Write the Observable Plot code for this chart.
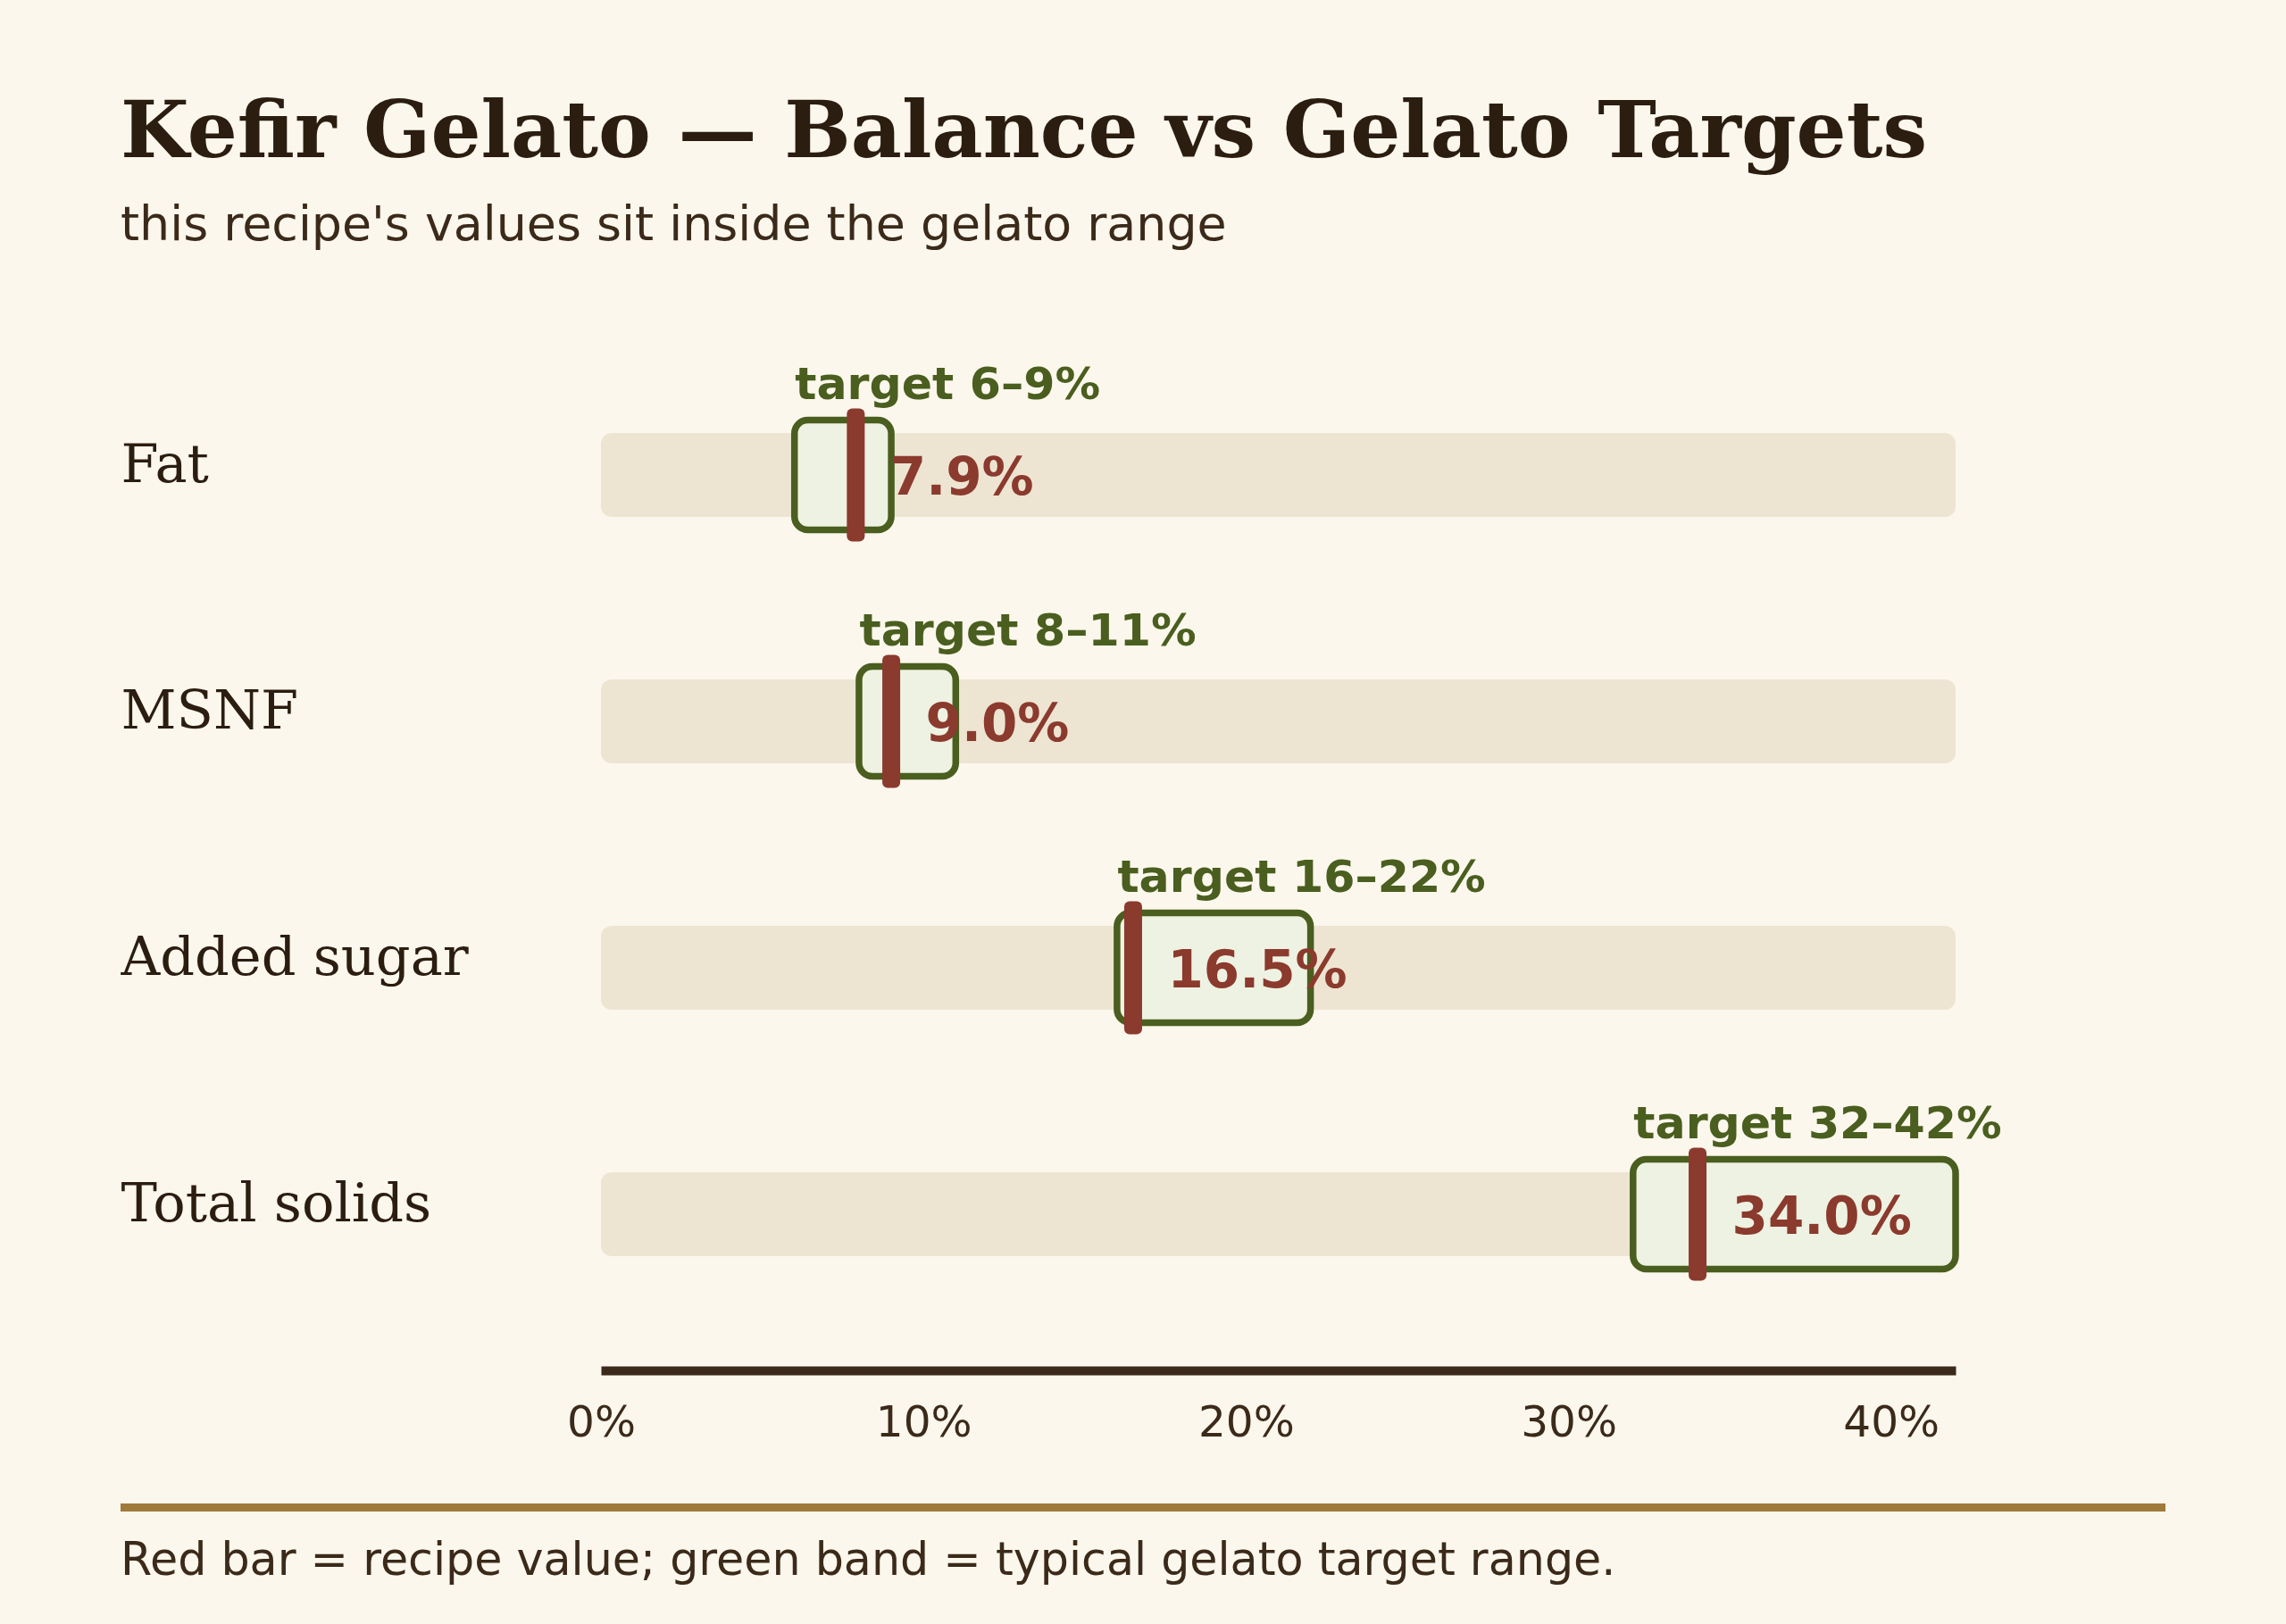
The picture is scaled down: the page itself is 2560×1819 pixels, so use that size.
<!DOCTYPE html>
<html>
<head>
<meta charset="utf-8">
<script src="https://cdn.jsdelivr.net/npm/d3@7"></script>
<script src="https://cdn.jsdelivr.net/npm/@observablehq/plot@0.6"></script>
<style>
  html, body { margin: 0; padding: 0; background: #fbf7ec; }
  body { width: 2560px; height: 1819px; position: relative; overflow: hidden; }
  .title { position: absolute; left: 135px; top: 101px; font: bold 88.2px "DejaVu Serif", serif; line-height: 1; color: #2b1d10; white-space: nowrap; }
  .subtitle { position: absolute; left: 135px; top: 224px; font: 53.8px "DejaVu Sans", sans-serif; line-height: 1; color: #3b2a1a; white-space: nowrap; }
  #chart { position: absolute; left: 0; top: 331px; }
  .rule { position: absolute; left: 135px; top: 1684px; width: 2290px; height: 9px; background: #a07a3b; }
  .caption { position: absolute; left: 135px; top: 1722px; font: 50.7px "DejaVu Sans", sans-serif; line-height: 1; color: #3b2a1a; white-space: nowrap; }
</style>
</head>
<body>
<div class="title">Kefir Gelato — Balance vs Gelato Targets</div>
<div class="subtitle">this recipe's values sit inside the gelato range</div>
<div id="chart"></div>
<div class="rule"></div>
<div class="caption">Red bar = recipe value; green band = typical gelato target range.</div>
<script>
// Recipe composition against the usual gelato ranges (percent of mix)
const categories = ["Fat", "MSNF", "Added sugar", "Total solids"];
const recipeValues = [7.9, 9.0, 16.5, 34.0];
const targetLow = [6, 8, 16, 32];
const targetHigh = [9, 11, 22, 42];
const tickValues = [0, 10, 20, 30, 40];
const axisMax = 42;

const rows = categories.map((cat, i) => ({
  cat,
  value: recipeValues[i],
  lo: targetLow[i],
  hi: targetHigh[i]
}));

const green = "#4a5e1f";
const red = "#8b3a2e";

const chart = Plot.plot({
  width: 2560,
  height: 1300,
  marginLeft: 673,
  marginRight: 370,
  marginTop: 26,
  marginBottom: 96,
  style: { background: "transparent", fontFamily: "DejaVu Sans", color: "#3b2a1a" },
  x: { domain: [0, axisMax] },
  y: { domain: categories, paddingInner: 0, paddingOuter: 0.134 },
  marks: [
    // track behind each row
    Plot.barX(rows, { x1: 0, x2: axisMax, y: "cat", fill: "#ede5d2", rx: 12, insetTop: 91, insetBottom: 91 }),
    // typical target range
    Plot.barX(rows, { x1: "lo", x2: "hi", y: "cat", fill: "#eef2e2", stroke: green, strokeWidth: 7.5, rx: 15, insetTop: 76.5, insetBottom: 76.5 }),
    // recipe value marker
    Plot.barX(rows, { x1: "value", x2: "value", y: "cat", fill: red, rx: 6, insetLeft: -10, insetRight: -10, insetTop: 63.5, insetBottom: 63.5 }),
    Plot.text(rows, {
      x: "lo", y: "cat", text: d => `target ${d.lo}–${d.hi}%`,
      textAnchor: "start", dy: -102, fill: green, fontSize: 50.6, fontWeight: "bold", fontFamily: "DejaVu Sans"
    }),
    Plot.text(rows, {
      x: "value", y: "cat", text: d => `${d.value.toFixed(1)}%`,
      textAnchor: "start", dx: 38, dy: 3, fill: red, fontSize: 58, fontWeight: "bold", fontFamily: "DejaVu Sans"
    }),
    Plot.frame({ anchor: "bottom", stroke: "#3b2a1a", strokeWidth: 10, strokeLinecap: "butt" }),
    Plot.axisX({
      ticks: tickValues, tickFormat: d => `${d}%`, tickSize: 0, tickPadding: 39,
      fontSize: 48.5, fill: "#3b2a1a", label: null
    }),
    Plot.axisY({
      tickSize: 0, tickPadding: 0, textAnchor: "start", dx: -538, dy: -12,
      fontSize: 60.6, fontFamily: "DejaVu Serif", fill: "#2b1d10", label: null
    })
  ]
});

document.getElementById("chart").appendChild(chart);
</script>
</body>
</html>
